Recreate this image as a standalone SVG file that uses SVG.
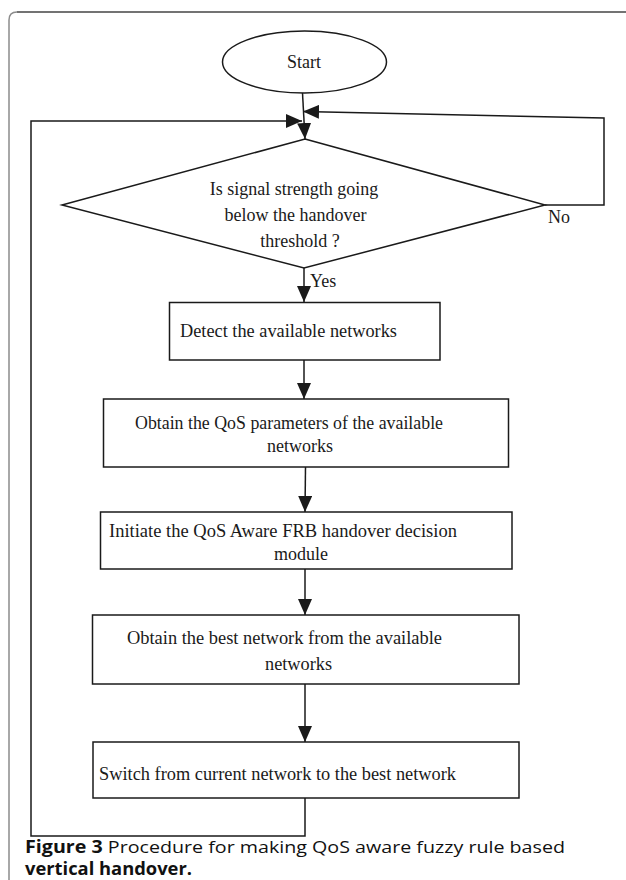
<svg xmlns="http://www.w3.org/2000/svg" width="626" height="880" viewBox="0 0 626 880">
  <style>
    .shape { fill: none; stroke: #1a1a1a; stroke-width: 1.5; }
    .box { fill: #ffffff; stroke: #1a1a1a; stroke-width: 1.5; }
    .wire { fill: none; stroke: #1a1a1a; stroke-width: 1.5; }
    .lbl { font-family: "Liberation Serif", "Times New Roman", serif; font-size: 18px; fill: #1a1a1a; }
    .cap { font-family: "Open Sans", "Noto Sans", sans-serif; font-size: 17px; fill: #111111; }
  </style>
  <defs>
    <marker id="arrow" viewBox="0 0 16 14" refX="16" refY="7" markerWidth="16" markerHeight="14" markerUnits="userSpaceOnUse" orient="auto">
      <path d="M0,0 L16,7 L0,14 Z" fill="#1a1a1a"/>
    </marker>
  </defs>

  <rect width="626" height="880" fill="#ffffff"/>

  <!-- figure frame -->
  <g id="frame">
    <path d="M9,880 V20 Q9,12 17,12" fill="none" stroke="#8c8c8c" stroke-width="1.5"/>
    <path d="M17,12 H626" fill="none" stroke="#454545" stroke-width="1.5"/>
  </g>

  <!-- connectors -->
  <g id="connectors">
    <path class="wire" d="M302.5,93 L305,139" marker-end="url(#arrow)"/>
    <path class="wire" d="M545,205 H604 V118 L303,111.5" marker-end="url(#arrow)"/>
    <path class="wire" d="M305,798 V836 H31 V121 H302" marker-end="url(#arrow)"/>
    <path class="wire" d="M304,268 V302" marker-end="url(#arrow)"/>
    <path class="wire" d="M304,360 V399" marker-end="url(#arrow)"/>
    <path class="wire" d="M305.5,467 L305,512" marker-end="url(#arrow)"/>
    <path class="wire" d="M305,569 V615" marker-end="url(#arrow)"/>
    <path class="wire" d="M305,684 V742" marker-end="url(#arrow)"/>
    <text class="lbl" x="548" y="223">No</text>
    <text class="lbl" x="310" y="287">Yes</text>
  </g>

  <g id="start">
    <ellipse class="shape" cx="304.5" cy="62" rx="82" ry="31"/>
    <text class="lbl" x="304" y="68" text-anchor="middle">Start</text>
  </g>

  <g id="decision">
    <path class="shape" d="M305,139 L545,205 L304,268 L62,205 Z"/>
    <text class="lbl" x="294" y="195" text-anchor="middle">Is signal strength going</text>
    <text class="lbl" x="295.5" y="221" text-anchor="middle">below the handover</text>
    <text class="lbl" x="300" y="247" text-anchor="middle">threshold ?</text>
  </g>

  <g id="detect">
    <rect class="box" x="169.5" y="302.5" width="270.5" height="57.5"/>
    <text class="lbl" x="180" y="337" textLength="217" lengthAdjust="spacingAndGlyphs">Detect the available networks</text>
  </g>

  <g id="qos-params">
    <rect class="box" x="103.5" y="399" width="405" height="68"/>
    <text class="lbl" x="135" y="429" textLength="308" lengthAdjust="spacingAndGlyphs">Obtain the QoS parameters of the available</text>
    <text class="lbl" x="267" y="452" textLength="66" lengthAdjust="spacingAndGlyphs">networks</text>
  </g>

  <g id="frb-module">
    <rect class="box" x="100.5" y="512" width="411.5" height="57"/>
    <text class="lbl" x="109" y="537" textLength="348" lengthAdjust="spacingAndGlyphs">Initiate the QoS Aware FRB handover decision</text>
    <text class="lbl" x="274" y="560" textLength="54" lengthAdjust="spacingAndGlyphs">module</text>
  </g>

  <g id="best-network">
    <rect class="box" x="92.5" y="615" width="426.5" height="69"/>
    <text class="lbl" x="127" y="644" textLength="315" lengthAdjust="spacingAndGlyphs">Obtain the best network from the available</text>
    <text class="lbl" x="265" y="670" textLength="67" lengthAdjust="spacingAndGlyphs">networks</text>
  </g>

  <g id="switch">
    <rect class="box" x="93" y="742" width="426" height="56"/>
    <text class="lbl" x="99" y="780" textLength="357" lengthAdjust="spacingAndGlyphs">Switch from current network to the best network</text>
  </g>

  <g id="caption">
    <text class="cap" x="25" y="853" textLength="540" lengthAdjust="spacingAndGlyphs"><tspan font-weight="bold">Figure 3</tspan> Procedure for making QoS aware fuzzy rule based</text>
    <text class="cap" x="25" y="875" font-weight="bold" textLength="167" lengthAdjust="spacingAndGlyphs">vertical handover.</text>
  </g>
</svg>
